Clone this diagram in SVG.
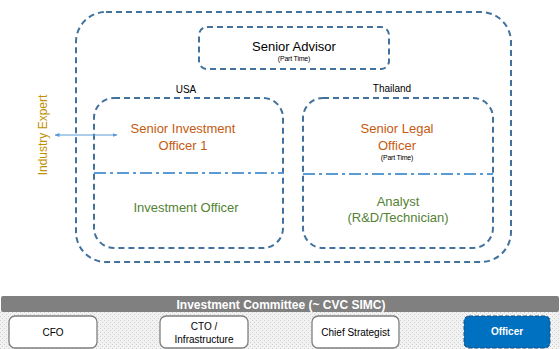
<svg xmlns="http://www.w3.org/2000/svg" width="560" height="349" viewBox="0 0 560 349">
<style>
text{font-family:"Liberation Sans",Arial,sans-serif;}
.dash{fill:none;stroke:#41719C;stroke-width:2;stroke-dasharray:6,4;}
.dd{fill:none;stroke:#5B9BD5;stroke-width:2;stroke-dasharray:12,4,3,4;}
.orange{fill:#C55A11;font-size:13px;}
.green{fill:#548235;font-size:13px;}
.small{font-size:7px;fill:#000;letter-spacing:-0.2px;}
.lbl{font-size:10px;fill:#000;}
.cbox{fill:#fff;stroke:#7F7F7F;stroke-width:1.3;}
.ctext{font-size:10px;fill:#000;}
</style>
<defs>
<pattern id="dots" width="4" height="4" patternUnits="userSpaceOnUse">
<rect width="4" height="4" fill="#F2F2F2"/>
<rect x="0" y="0" width="1" height="1" fill="#D0D0D0"/>
<rect x="2" y="2" width="1" height="1" fill="#D0D0D0"/>
</pattern>
<marker id="ah" viewBox="0 0 10 10" refX="9" refY="5" markerWidth="5" markerHeight="5" orient="auto-start-reverse">
<path d="M0,1 L10,5 L0,9 z" fill="#5B9BD5"/>
</marker>
</defs>
<rect x="0" y="0" width="560" height="349" fill="#fff"/>

<g id="outer">
<rect class="dash" x="76" y="12" width="435" height="250" rx="30"/>
</g>
<g id="senior-advisor">
<rect class="dash" x="199" y="27" width="190" height="42" rx="8"/>
<text x="294" y="51" text-anchor="middle" font-size="13" fill="#000">Senior Advisor</text>
<text class="small" x="294" y="61" text-anchor="middle">(Part Time)</text>
</g>
<g id="usa">
<text class="lbl" x="186" y="93" text-anchor="middle">USA</text>
<rect class="dash" x="94" y="98" width="189" height="150" rx="20"/>
<line class="dd" x1="94" y1="173" x2="283" y2="173"/>
<text class="orange" x="183" y="133" text-anchor="middle">Senior Investment</text>
<text class="orange" x="183" y="150" text-anchor="middle">Officer 1</text>
<text class="green" x="186" y="212" text-anchor="middle">Investment Officer</text>
</g>
<g id="thailand">
<text class="lbl" x="392" y="92" text-anchor="middle">Thailand</text>
<rect class="dash" x="303" y="98" width="190" height="150" rx="20"/>
<line class="dd" x1="303" y1="174" x2="493" y2="174"/>
<text class="orange" x="397" y="133" text-anchor="middle">Senior Legal</text>
<text class="orange" x="397" y="150" text-anchor="middle">Officer</text>
<text class="small" x="397" y="160" text-anchor="middle">(Part Time)</text>
<text class="green" x="398" y="206" text-anchor="middle">Analyst</text>
<text class="green" x="398" y="222" text-anchor="middle">(R&amp;D/Technician)</text>
</g>
<g id="industry-expert">
<text x="47" y="135" text-anchor="middle" font-size="12" fill="#BF9000" transform="rotate(-90 47 135)">Industry Expert</text>
</g>
<g id="connectors">
<line x1="55" y1="135" x2="117" y2="135" stroke="#5B9BD5" stroke-width="1" marker-start="url(#ah)" marker-end="url(#ah)"/>
</g>
<g id="committee">
<rect x="0" y="311" width="560" height="38" fill="url(#dots)"/>
<rect x="1" y="296" width="558" height="16" rx="2" fill="#808080"/>
<text x="281" y="308.5" text-anchor="middle" font-size="12" font-weight="bold" fill="#fff">Investment Committee (~ CVC SIMC)</text>
</g>
<g id="cfo">
<rect class="cbox" x="9" y="316" width="88" height="32" rx="6"/>
<text class="ctext" x="53" y="336" text-anchor="middle">CFO</text>
</g>
<g id="cto">
<rect class="cbox" x="160" y="316" width="88" height="32" rx="6"/>
<text class="ctext" x="204" y="330" text-anchor="middle">CTO /</text>
<text class="ctext" x="204" y="343" text-anchor="middle">Infrastructure</text>
</g>
<g id="chief-strategist">
<rect class="cbox" x="312" y="316" width="87" height="32" rx="6"/>
<text class="ctext" x="355.5" y="336" text-anchor="middle">Chief Strategist</text>
</g>
<g id="officer">
<rect x="464" y="316" width="86" height="32" rx="5" fill="#0070C0" stroke="#1F4E79" stroke-width="1" stroke-dasharray="4,2"/>
<text x="507" y="335" text-anchor="middle" font-size="10" font-weight="bold" fill="#fff">Officer</text>
</g>
</svg>
